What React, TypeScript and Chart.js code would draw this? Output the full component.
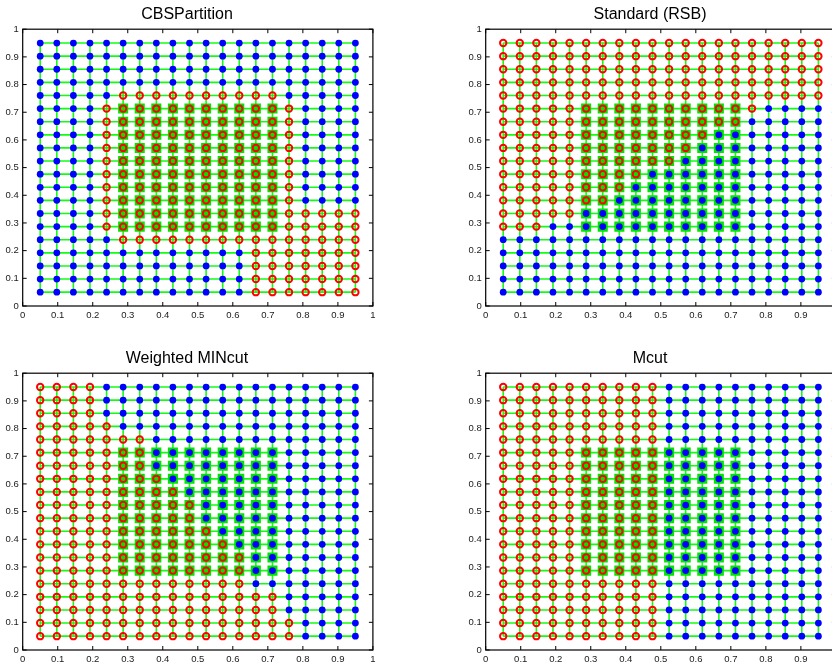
import React, { useEffect, useRef } from "react";
import { Chart, registerables } from "chart.js";

Chart.register(...registerables);

// Node coordinates of the 20 x 20 grid graph (same on both axes)
const GRID = [0.05, 0.0974, 0.1447, 0.1921, 0.2395, 0.2868, 0.3342, 0.3816, 0.4289, 0.4763, 0.5237, 0.5711, 0.6184, 0.6658, 0.7132, 0.7605, 0.8079, 0.8553, 0.9026, 0.95];
// Coordinates of the dense (heavily connected) block
const DENSE = [0.2868, 0.3342, 0.3816, 0.4289, 0.4763, 0.5237, 0.5711, 0.6184, 0.6658, 0.7132];
// Axis tick values and labels
const TICK_VALUES = [0, 0.1, 0.2, 0.3, 0.4, 0.5, 0.6, 0.7, 0.8, 0.9, 1];
const TICK_LABELS = ["0", "0.1", "0.2", "0.3", "0.4", "0.5", "0.6", "0.7", "0.8", "0.9", "1"];

// Partition labels, rows from top (y = 0.95) to bottom (y = 0.05); r = red circle, b = blue dot
const CBS_LABELS = [
  "bbbbbbbbbbbbbbbbbbbb",
  "bbbbbbbbbbbbbbbbbbbb",
  "bbbbbbbbbbbbbbbbbbbb",
  "bbbbbbbbbbbbbbbbbbbb",
  "bbbbbrrrrrrrrrrbbbbb",
  "bbbbrrrrrrrrrrrrbbbb",
  "bbbbrrrrrrrrrrrrbbbb",
  "bbbbrrrrrrrrrrrrbbbb",
  "bbbbrrrrrrrrrrrrbbbb",
  "bbbbrrrrrrrrrrrrbbbb",
  "bbbbrrrrrrrrrrrrbbbb",
  "bbbbrrrrrrrrrrrrbbbb",
  "bbbbrrrrrrrrrrrrbbbb",
  "bbbbrrrrrrrrrrrrrrrr",
  "bbbbrrrrrrrrrrrrrrrr",
  "bbbbbrrrrrrrrrrrrrrr",
  "bbbbbbbbbbbbbrrrrrrr",
  "bbbbbbbbbbbbbrrrrrrr",
  "bbbbbbbbbbbbbrrrrrrr",
  "bbbbbbbbbbbbbrrrrrrr",
];
const RSB_LABELS = [
  "rrrrrrrrrrrrrrrrrrrr",
  "rrrrrrrrrrrrrrrrrrrr",
  "rrrrrrrrrrrrrrrrrrrr",
  "rrrrrrrrrrrrrrrrrrrr",
  "rrrrrrrrrrrrrrrrrrrr",
  "rrrrrrrrrrrrrrrrbbbb",
  "rrrrrrrrrrrrrrrbbbbb",
  "rrrrrrrrrrrrrbbbbbbb",
  "rrrrrrrrrrrrbbbbbbbb",
  "rrrrrrrrrrrbbbbbbbbb",
  "rrrrrrrrrbbbbbbbbbbb",
  "rrrrrrrrbbbbbbbbbbbb",
  "rrrrrrrbbbbbbbbbbbbb",
  "rrrrrbbbbbbbbbbbbbbb",
  "rrrbbbbbbbbbbbbbbbbb",
  "bbbbbbbbbbbbbbbbbbbb",
  "bbbbbbbbbbbbbbbbbbbb",
  "bbbbbbbbbbbbbbbbbbbb",
  "bbbbbbbbbbbbbbbbbbbb",
  "bbbbbbbbbbbbbbbbbbbb",
];
const MINCUT_LABELS = [
  "rrrrbbbbbbbbbbbbbbbb",
  "rrrrbbbbbbbbbbbbbbbb",
  "rrrrbbbbbbbbbbbbbbbb",
  "rrrrrbbbbbbbbbbbbbbb",
  "rrrrrrrbbbbbbbbbbbbb",
  "rrrrrrrbbbbbbbbbbbbb",
  "rrrrrrrbbbbbbbbbbbbb",
  "rrrrrrrrbbbbbbbbbbbb",
  "rrrrrrrrrbbbbbbbbbbb",
  "rrrrrrrrrrbbbbbbbbbb",
  "rrrrrrrrrrbbbbbbbbbb",
  "rrrrrrrrrrrbbbbbbbbb",
  "rrrrrrrrrrrrbbbbbbbb",
  "rrrrrrrrrrrrrbbbbbbb",
  "rrrrrrrrrrrrrbbbbbbb",
  "rrrrrrrrrrrrrbbbbbbb",
  "rrrrrrrrrrrrrrrbbbbb",
  "rrrrrrrrrrrrrrrbbbbb",
  "rrrrrrrrrrrrrrrrbbbb",
  "rrrrrrrrrrrrrrrrbbbb",
];
const MCUT_LABELS = [
  "rrrrrrrrrrbbbbbbbbbb",
  "rrrrrrrrrrbbbbbbbbbb",
  "rrrrrrrrrrbbbbbbbbbb",
  "rrrrrrrrrrbbbbbbbbbb",
  "rrrrrrrrrrbbbbbbbbbb",
  "rrrrrrrrrrbbbbbbbbbb",
  "rrrrrrrrrrbbbbbbbbbb",
  "rrrrrrrrrrbbbbbbbbbb",
  "rrrrrrrrrrbbbbbbbbbb",
  "rrrrrrrrrrbbbbbbbbbb",
  "rrrrrrrrrrbbbbbbbbbb",
  "rrrrrrrrrrbbbbbbbbbb",
  "rrrrrrrrrrbbbbbbbbbb",
  "rrrrrrrrrrbbbbbbbbbb",
  "rrrrrrrrrrbbbbbbbbbb",
  "rrrrrrrrrrbbbbbbbbbb",
  "rrrrrrrrrrbbbbbbbbbb",
  "rrrrrrrrrrbbbbbbbbbb",
  "rrrrrrrrrrbbbbbbbbbb",
  "rrrrrrrrrrbbbbbbbbbb",
];

const FONT = "'Liberation Sans', Arial, Helvetica, sans-serif";
const LINE_GREEN = "#10ff10";
const SQUARE_GREEN = "#00e400";
const BLUE = "#0000ff";
const RED = "#ff0000";

const boxPlugin = {
  id: "matlabBox",
  afterDatasetsDraw(chart: any) {
    const { ctx, chartArea, scales } = chart;
    const { left, right, top, bottom } = chartArea;
    const xs = scales.x;
    const ys = scales.y;
    const tl = 4;
    ctx.save();
    ctx.strokeStyle = "#000";
    ctx.lineWidth = 1.2;
    ctx.strokeRect(left, top, right - left, bottom - top);
    ctx.lineWidth = 1;
    ctx.beginPath();
    xs.ticks.forEach((t: any) => {
      const px = xs.getPixelForValue(t.value);
      ctx.moveTo(px, bottom);
      ctx.lineTo(px, bottom - tl);
      ctx.moveTo(px, top);
      ctx.lineTo(px, top + tl);
    });
    ys.ticks.forEach((t: any) => {
      const py = ys.getPixelForValue(t.value);
      ctx.moveTo(left, py);
      ctx.lineTo(left + tl, py);
      ctx.moveTo(right, py);
      ctx.lineTo(right - tl, py);
    });
    ctx.stroke();
    ctx.restore();
  },
};

function Panel({ title, labels, left, top }: { title: string; labels: string[]; left: number; top: number }) {
  const ref = useRef<HTMLCanvasElement | null>(null);
  useEffect(() => {
    if (!ref.current) return;
    const datasets: any[] = [];
    // horizontal edges
    GRID.forEach((y) => {
      datasets.push({
        data: GRID.map((x) => ({ x, y })),
        showLine: true,
        borderColor: LINE_GREEN,
        borderWidth: 1.6,
        pointRadius: 0,
        order: 5,
      });
    });
    // vertical edges
    GRID.forEach((x) => {
      datasets.push({
        data: GRID.map((y) => ({ x, y })),
        showLine: true,
        borderColor: LINE_GREEN,
        borderWidth: 1.6,
        pointRadius: 0,
        order: 5,
      });
    });
    // dense block
    datasets.push({
      data: DENSE.flatMap((y) => DENSE.map((x) => ({ x, y }))),
      pointStyle: "rect",
      pointRadius: 7.1,
      backgroundColor: SQUARE_GREEN,
      borderWidth: 0,
      order: 4,
    });
    const blue: any[] = [];
    const red: any[] = [];
    labels.forEach((row, r) => {
      const y = GRID[GRID.length - 1 - r];
      row.split("").forEach((c, i) => {
        (c === "r" ? red : blue).push({ x: GRID[i], y });
      });
    });
    datasets.push({
      data: blue,
      pointStyle: "circle",
      pointRadius: 3.4,
      backgroundColor: BLUE,
      borderWidth: 0,
      order: 2,
    });
    datasets.push({
      data: red,
      pointStyle: "circle",
      pointRadius: 3.2,
      backgroundColor: "rgba(0,0,0,0)",
      borderColor: RED,
      borderWidth: 2,
      order: 1,
    });

    const tickCfg = {
      font: { size: 9.5, family: FONT },
      color: "#1a1a1a",
      padding: 4,
      autoSkip: false,
      maxRotation: 0,
      stepSize: 0.1,
      callback: (v: any) => {
        const idx = TICK_VALUES.findIndex((t) => Math.abs(t - v) < 1e-6);
        return idx >= 0 ? TICK_LABELS[idx] : "";
      },
    };

    const chart = new Chart(ref.current, {
      type: "scatter",
      data: { datasets },
      plugins: [boxPlugin],
      options: {
        responsive: false,
        animation: false,
        events: [],
        layout: { padding: { left: 0, right: 6, top: 0, bottom: 0 } },
        plugins: {
          legend: { display: false },
          tooltip: { enabled: false },
          title: {
            display: true,
            text: title,
            color: "#000",
            font: { size: 16, family: FONT, weight: "normal" },
            padding: { top: 5, bottom: 5 },
          },
        },
        scales: {
          x: {
            type: "linear",
            min: 0,
            max: 1,
            ticks: tickCfg,
            grid: { display: false, drawTicks: false },
            border: { display: false },
            afterFit: (s: any) => {
              s.height = 20;
            },
          },
          y: {
            type: "linear",
            min: 0,
            max: 1,
            ticks: tickCfg,
            grid: { display: false, drawTicks: false },
            border: { display: false },
            afterFit: (s: any) => {
              s.width = 22.7;
            },
          },
        },
      } as any,
    });
    return () => chart.destroy();
  }, [title, labels]);

  return (
    <canvas
      ref={ref}
      width={380}
      height={326}
      style={{ position: "absolute", left, top, width: 380, height: 326 }}
    />
  );
}

export default function App() {
  return (
    <div
      style={{
        position: "fixed",
        left: 0,
        top: 0,
        width: 832,
        height: 664,
        overflow: "hidden",
        background: "#fff",
      }}
    >
      <Panel title="CBSPartition" labels={CBS_LABELS} left={0} top={0} />
      <Panel title="Standard (RSB)" labels={RSB_LABELS} left={463} top={0} />
      <Panel title="Weighted MINcut" labels={MINCUT_LABELS} left={0} top={344} />
      <Panel title="Mcut" labels={MCUT_LABELS} left={463} top={344} />
    </div>
  );
}
